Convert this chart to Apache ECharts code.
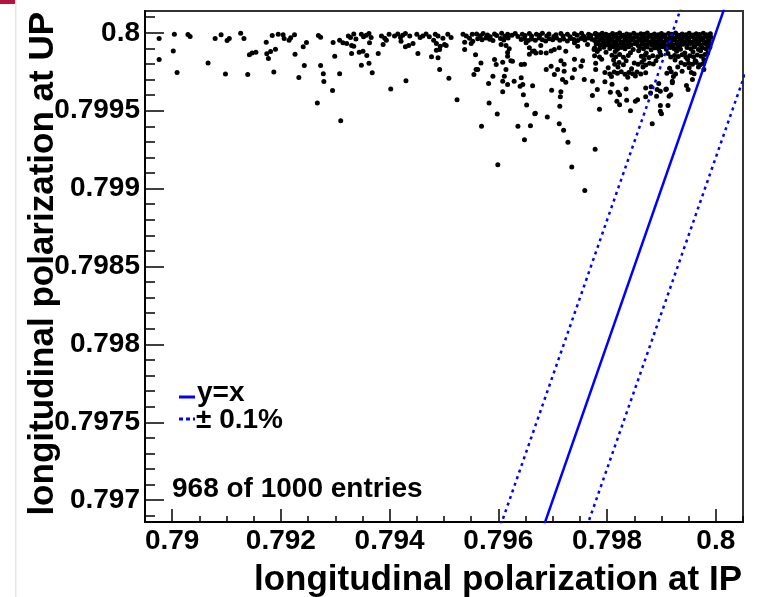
<!DOCTYPE html>
<html>
<head>
<meta charset="utf-8">
<script src="https://cdn.jsdelivr.net/npm/echarts@6/dist/echarts.min.js"></script>
<style>
    html, body { margin: 0; padding: 0; background: #fff; }
    #chart { width: 760px; height: 597px; }
</style>
</head>
<body>
<div id="chart"></div>
<script>
// 坐标范围
const xMin = 0.7895, xMax = 0.8005;
const yMin = 0.79686, yMax = 0.80014;

// 刻度
const xMajorTicks = [0.79, 0.792, 0.794, 0.796, 0.798, 0.8];
const xTickLabels = ['0.79', '0.792', '0.794', '0.796', '0.798', '0.8'];
const xMinorTicks = [0.7895, 0.7905, 0.791, 0.7915, 0.7925, 0.793, 0.7935, 0.7945, 0.795, 0.7955,
    0.7965, 0.797, 0.7975, 0.7985, 0.799, 0.7995, 0.8005];
const yMajorTicks = [0.797, 0.7975, 0.798, 0.7985, 0.799, 0.7995, 0.8];
const yTickLabels = ['0.797', '0.7975', '0.798', '0.7985', '0.799', '0.7995', '0.8'];
const yMinorTicks = [0.7969, 0.7971, 0.7972, 0.7973, 0.7974, 0.7976, 0.7977, 0.7978, 0.7979,
    0.7981, 0.7982, 0.7983, 0.7984, 0.7986, 0.7987, 0.7988, 0.7989, 0.7991, 0.7992, 0.7993, 0.7994,
    0.7996, 0.7997, 0.7998, 0.7999, 0.8001];

// 稀疏的点 (IP, UP)
const sparseHits = [
    [0.78976,0.799963],[0.79004,0.799991],[0.79029,0.799989],[0.79033,0.799976],[0.79002,0.799884],
    [0.78976,0.799828],[0.79009,0.799745],[0.79066,0.799807],[0.79079,0.799963],[0.7909,0.799987],
    [0.79101,0.79995],[0.79105,0.799963],[0.79098,0.799736],[0.79126,0.799997],[0.79132,0.799963],
    [0.79139,0.799732],[0.79142,0.799859],[0.79147,0.799871],[0.79154,0.799875],[0.79173,0.79994],
    [0.79174,0.799865],[0.79177,0.799835],[0.79181,0.79988],[0.7919,0.799895],[0.79184,0.799983],
    [0.79195,0.799991],[0.79204,0.799987],[0.79206,0.799963],[0.79215,0.799952],[0.79218,0.799968],
    [0.79225,0.799987],[0.79187,0.799749],[0.79226,0.799862],[0.79233,0.799713],[0.79243,0.79979],
    [0.79241,0.79991],[0.79247,0.799938],[0.79267,0.79955],[0.79269,0.799983],[0.79273,0.799972],
    [0.79273,0.79979],[0.79278,0.799738],[0.79279,0.799687],[0.79295,0.799629],[0.79296,0.799938],
    [0.79299,0.79985],[0.7933,0.799867],[0.79344,0.799875],[0.79351,0.799882],[0.79358,0.799854],
    [0.79379,0.799867],[0.79452,0.799867],[0.79477,0.799846],[0.79489,0.79984],[0.79486,0.799888],
    [0.79492,0.799893],[0.79538,0.799893],[0.79558,0.799859],
    [0.79348,0.799792],[0.79362,0.799805],[0.79308,0.799738],[0.79368,0.799743],[0.79492,0.799764],
    [0.7943,0.799693],[0.79509,0.799708],[0.79559,0.799764],[0.79555,0.799732],[0.79402,0.79964],
    [0.79524,0.799571],[0.7931,0.799436],
    [0.79599,0.799153],[0.79735,0.799139],[0.79759,0.798988],[0.79778,0.799252],[0.79648,0.799314],
    [0.79728,0.799297],[0.79569,0.7994],[0.79636,0.7994],[0.79659,0.799404],[0.79712,0.799417],
    [0.7972,0.799374],[0.7969,0.79946],[0.79667,0.799481],[0.79598,0.799479],[0.79583,0.79955],
    [0.79883,0.799417],[0.799,0.799481],
    [0.79582,0.799674],[0.79608,0.799621],[0.79617,0.799668],[0.7964,0.799657],[0.79645,0.799668],
    [0.79646,0.799603],[0.79663,0.79966],[0.79652,0.799537],[0.79668,0.799483],[0.79698,0.799631],
    [0.79715,0.799621],[0.79714,0.799589],[0.79724,0.799682],[0.79713,0.799528],[0.79773,0.799597],
    [0.79782,0.799636],[0.79796,0.799686],[0.79809,0.79967],[0.79806,0.799618],[0.7982,0.799618],
    [0.79823,0.799603],[0.79835,0.79964],[0.79818,0.79956],[0.79823,0.799539],[0.79836,0.799567],
    [0.79843,0.7995],[0.79786,0.799509],[0.79852,0.79956],[0.79856,0.799571],[0.79871,0.799589],
    [0.7988,0.799614],[0.79881,0.799653],[0.79891,0.799592],[0.79895,0.799674],[0.79898,0.799625],
    [0.79898,0.799533],[0.79912,0.799533],[0.79898,0.799496],[0.79909,0.79964],[0.79917,0.799603],
    [0.7992,0.799679],[0.79946,0.799661],[0.79949,0.799636],
    [0.79963,0.799817],[0.79978,0.799764],[0.79957,0.7997],[0.79938,0.799753],[0.7992,0.799689],
    [0.79908,0.799636],[0.79914,0.799592],[0.79892,0.799636],[0.79871,0.799646]
];

// 上沿的密集带
const bandHits = [
    [0.79324,0.79998],[0.79328,0.79997],[0.79334,0.799992],[0.79338,0.79996],[0.79348,0.79999],
    [0.79352,0.799975],[0.79357,0.799985],[0.79362,0.799996],[0.79366,0.79997],[0.79385,0.79998],
    [0.79391,0.799965],[0.79399,0.79999],[0.79409,0.79998],[0.79415,0.799992],[0.7942,0.79997],
    [0.79424,0.799985],[0.79429,0.799995],[0.79437,0.79998],[0.7945,0.79999],[0.79456,0.79997],
    [0.79461,0.79998],[0.79467,0.799993],[0.79473,0.799975],[0.79484,0.79999],[0.79489,0.79998],
    [0.79498,0.799965],[0.79507,0.79999],[0.79513,0.79997],[0.79535,0.79999],[0.79541,0.79998],
    [0.79547,0.799965],[0.79552,0.79999],
    [0.79308,0.799952],[0.79314,0.799936],[0.79321,0.799931],[0.7933,0.799918],[0.79334,0.799914],
    [0.79363,0.799936],[0.79388,0.799925],[0.79394,0.799952],[0.79421,0.799946],[0.79429,0.79991],
    [0.79435,0.799918],[0.79443,0.799931],[0.79481,0.799952],[0.79486,0.799931],[0.79493,0.799914],
    [0.79501,0.799925],[0.79504,0.799918],[0.79538,0.79994],[0.7955,0.799931],[0.79553,0.799946],
    [0.7956,0.799992],[0.79567,0.799981],[0.79572,0.799996],[0.7958,0.799986],[0.79585,0.799975],
    [0.79593,0.799993],[0.79597,0.799983],[0.79606,0.799997],[0.79612,0.799978],[0.79617,0.79999],
    [0.79625,0.799984],[0.79631,0.799996],[0.79636,0.799976],[0.79644,0.79999],[0.79649,0.799982],
    [0.79657,0.799995],[0.79661,0.799979],[0.7967,0.79999],[0.79676,0.799985],[0.79681,0.799997],
    [0.79689,0.79998],[0.79693,0.799992],[0.79702,0.799976],[0.79706,0.799988],[0.79715,0.799996],
    [0.79719,0.79998],[0.79727,0.799991],[0.79732,0.799975],[0.7974,0.799994],[0.79745,0.799984],
    [0.79753,0.799997],[0.79757,0.799978],[0.79766,0.79999],[0.7977,0.799982],[0.79779,0.799995],
    [0.79562,0.799962],[0.7957,0.799955],[0.79577,0.799966],[0.79584,0.799958],[0.7959,0.799951],
    [0.79604,0.799963],[0.7961,0.799954],[0.79618,0.799967],[0.79642,0.799957],[0.79648,0.799964],
    [0.79655,0.79995],[0.79661,0.79996],[0.79668,0.799953],[0.79675,0.799966],[0.79681,0.799956],
    [0.79687,0.799948],[0.79694,0.799962],[0.797,0.799955],[0.79707,0.799967],[0.79713,0.799952],
    [0.7972,0.79996],[0.79727,0.799947],[0.79733,0.799964],[0.79739,0.799957],[0.79746,0.79995],
    [0.79752,0.799963],[0.79759,0.799954],[0.79765,0.799966],[0.79772,0.799958],
    [0.79605,0.799925],[0.79614,0.799918],[0.7962,0.799897],[0.79651,0.799936],[0.79657,0.799904],
    [0.79663,0.799882],[0.79669,0.799871],[0.79678,0.799918],[0.79688,0.799871],[0.79703,0.799893],
    [0.79712,0.799904],[0.79724,0.799882],[0.7974,0.799936],[0.79746,0.799914],[0.79764,0.799925],
    [0.79776,0.799893],
    [0.79568,0.799807],[0.79593,0.799828],[0.79596,0.799796],[0.79608,0.799811],[0.79614,0.799764],
    [0.79617,0.79985],[0.79626,0.799817],[0.79642,0.799796],[0.79562,0.799764],[0.7959,0.799721],
    [0.79611,0.799721],[0.79608,0.799689],[0.79629,0.799689],[0.79642,0.799711],[0.79688,0.799764],
    [0.79697,0.799785],[0.79709,0.799764],[0.79703,0.799732],[0.79718,0.7997],[0.79721,0.799753],
    [0.79736,0.799711],[0.7974,0.799764],[0.79752,0.799785],[0.79758,0.7997],[0.79773,0.799689],
    [0.79779,0.799764],
    [0.79617,0.799873],[0.79623,0.79982],[0.79648,0.799798],[0.79657,0.799862],[0.79666,0.799884],
    [0.79678,0.799873],[0.79697,0.799884],[0.79715,0.79982],[0.79721,0.799798],[0.7974,0.79983],
    [0.79755,0.79982]
];

// 右上角的核心区
const coreHits = [
    [0.79778,0.799994],[0.79785,0.799987],[0.79791,0.799997],[0.79798,0.79999],[0.79804,0.799984],
    [0.7981,0.799996],[0.79817,0.799989],[0.79823,0.799998],[0.7983,0.799985],[0.79836,0.799993],
    [0.79842,0.799988],[0.79849,0.799997],[0.79855,0.799986],[0.79862,0.799994],[0.79868,0.79999],
    [0.79874,0.799998],[0.79881,0.799985],[0.79887,0.799993],[0.79894,0.799988],[0.799,0.799996],
    [0.79906,0.799986],[0.79913,0.799995],[0.79919,0.79999],[0.79926,0.799998],[0.79932,0.799985],
    [0.79938,0.799993],[0.79945,0.799988],[0.79951,0.799997],[0.79958,0.799986],[0.79964,0.799994],
    [0.7997,0.799989],[0.79977,0.799997],[0.79983,0.799987],[0.7999,0.799994],
    [0.79781,0.799972],[0.79788,0.799966],[0.79794,0.799976],[0.79801,0.799969],[0.79807,0.799962],
    [0.79813,0.799974],[0.7982,0.799967],[0.79826,0.799977],[0.79833,0.799964],[0.79839,0.799971],
    [0.79845,0.799966],[0.79852,0.799975],[0.79858,0.799963],[0.79865,0.799972],[0.79871,0.799968],
    [0.79877,0.799977],[0.79884,0.799964],[0.7989,0.799971],[0.79897,0.799966],[0.79903,0.799975],
    [0.79909,0.799963],[0.79916,0.799973],[0.79922,0.799968],[0.79929,0.799977],[0.79935,0.799964],
    [0.79941,0.799971],[0.79948,0.799966],[0.79954,0.799975],[0.79961,0.799963],[0.79967,0.799972],
    [0.79973,0.799967],[0.7998,0.799976],[0.79986,0.799965],[0.79991,0.799972],
    [0.79777,0.79995],[0.79784,0.799944],[0.7979,0.799955],[0.79797,0.799947],[0.79803,0.79994],
    [0.79809,0.799952],[0.79816,0.799945],[0.79822,0.799956],[0.79829,0.799942],[0.79835,0.79995],
    [0.79841,0.799944],[0.79848,0.799954],[0.79854,0.799941],[0.79861,0.79995],[0.79867,0.799946],
    [0.79873,0.799955],[0.7988,0.799942],[0.79886,0.799949],[0.79893,0.799944],[0.79899,0.799953],
    [0.79905,0.799941],[0.79912,0.79995],[0.79918,0.799946],[0.79925,0.799955],[0.79931,0.799942],
    [0.79937,0.799949],[0.79944,0.799944],[0.7995,0.799953],[0.79957,0.799941],[0.79963,0.79995],
    [0.79969,0.799945],[0.79976,0.799954],[0.79982,0.799943],[0.79988,0.79995],
    [0.7978,0.799928],[0.79787,0.799921],[0.79793,0.799932],[0.798,0.799924],[0.79806,0.799918],
    [0.79812,0.79993],[0.79819,0.799922],[0.79825,0.799933],[0.79832,0.79992],[0.79838,0.799928],
    [0.79844,0.799922],[0.79851,0.799931],[0.79857,0.799919],[0.79864,0.799927],[0.7987,0.799923],
    [0.79876,0.799932],[0.79883,0.79992],[0.79889,0.799927],[0.79896,0.799922],[0.79902,0.799931],
    [0.79908,0.799919],[0.79915,0.799928],[0.79921,0.799923],[0.79928,0.799932],[0.79934,0.79992],
    [0.7994,0.799927],[0.79947,0.799922],[0.79953,0.799931],[0.7996,0.799919],[0.79966,0.799928],
    [0.79972,0.799922],[0.79979,0.799931],[0.79985,0.79992],[0.79989,0.799928],
    [0.79777,0.799903],[0.79786,0.799896],[0.79794,0.799908],[0.79805,0.799899],[0.79812,0.79991],
    [0.79819,0.799894],[0.79826,0.799905],[0.79833,0.799898],[0.7984,0.79991],[0.79848,0.799893],
    [0.7986,0.799906],[0.79867,0.799897],[0.79874,0.799909],[0.79881,0.799892],[0.79888,0.799904],
    [0.79895,0.799898],[0.79902,0.799911],[0.79909,0.799895],[0.79916,0.799906],[0.79923,0.799899],
    [0.7993,0.799909],[0.79935,0.799894],[0.79947,0.799905],[0.79954,0.799897],[0.79961,0.79991],
    [0.79968,0.799893],[0.79975,0.799904],[0.79982,0.799898],[0.79989,0.799908],
    [0.79782,0.79988],[0.79798,0.799875],[0.79815,0.79988],[0.79843,0.799872],[0.79858,0.799885],
    [0.79872,0.79987],[0.79897,0.799878],[0.79912,0.799868],[0.79928,0.799882],[0.79943,0.79987],
    [0.79958,0.799878],[0.79972,0.799885],[0.79985,0.79987],
    [0.79777,0.799852],[0.79786,0.799845],[0.79809,0.799856],[0.79816,0.799847],[0.79823,0.79986],
    [0.7983,0.799843],[0.79839,0.799854],[0.79863,0.799849],[0.7987,0.799858],[0.79877,0.799842],
    [0.79884,0.799853],[0.79893,0.799846],[0.79899,0.799857],[0.79917,0.799844],[0.79924,0.799855],
    [0.79931,0.799848],[0.79938,0.799859],[0.79945,0.799843],[0.79952,0.799852],[0.79959,0.799846],
    [0.79966,0.799857],[0.79973,0.799849],[0.7998,0.79986],
    [0.7979,0.79983],[0.79812,0.799825],[0.79835,0.79982],[0.79868,0.799828],[0.7989,0.79982],
    [0.79925,0.799825],[0.79948,0.79983],[0.79962,0.79982],[0.79978,0.799828],
    [0.79779,0.799805],[0.79814,0.799798],[0.79822,0.79981],[0.7983,0.799795],[0.7985,0.799806],
    [0.79857,0.799799],[0.79864,0.799811],[0.79871,0.799794],[0.79878,0.799804],[0.79885,0.7998],
    [0.79936,0.799808],[0.79943,0.799796],[0.7995,0.799805],[0.79957,0.799799],[0.79964,0.79981],
    [0.79971,0.799795],[0.79977,0.799803],
    [0.79802,0.799775],[0.7982,0.79978],[0.79845,0.79977],[0.79866,0.79978],[0.79915,0.799772],
    [0.7993,0.79978],[0.79951,0.799775],[0.79968,0.79978],
    [0.79796,0.799745],[0.79805,0.799736],[0.79813,0.799748],[0.79819,0.79974],[0.79826,0.79975],
    [0.79833,0.799734],[0.7984,0.799746],[0.79847,0.799738],[0.79855,0.799749],[0.79862,0.799735],
    [0.79871,0.799744],[0.7991,0.79974],[0.79918,0.79975],[0.79926,0.799736],[0.79955,0.799745],
    [0.7996,0.799737],
    [0.79808,0.79972],[0.79838,0.799715],[0.79852,0.799722],[0.79922,0.79972]
];

// 参考线 y=x 与 ±0.1%
const lineYX = [[0.7965, 0.7965], [0.8006, 0.8006]];
const linePlus = [[0.7960, 0.796796], [0.7995, 0.8003]];
const lineMinus = [[0.7975, 0.796703], [0.8010, 0.800199]];

const font = 'Liberation Sans, Arial, sans-serif';
const blue = '#0000ff';

function fmt(ticks, labels) {
    return function (v) {
        for (let i = 0; i < ticks.length; i++) {
            if (Math.abs(ticks[i] - v) < 1e-9) return labels[i];
        }
        return '';
    };
}

const option = {
    animation: false,
    backgroundColor: '#fff',
    grid: {
        left: 145, right: 17, top: 11, bottom: 75,
        show: true, borderColor: '#333', borderWidth: 2,
        containLabel: false, outerBoundsMode: 'none'
    },
    xAxis: [{
        type: 'value', min: xMin, max: xMax, position: 'bottom',
        axisLine: { show: true, lineStyle: { color: '#000', width: 2 } },
        axisTick: { show: true, inside: true, length: 13, customValues: xMajorTicks, lineStyle: { color: '#000', width: 1.5 } },
        axisLabel: {
            customValues: xMajorTicks, formatter: fmt(xMajorTicks, xTickLabels),
            color: '#000', fontSize: 28, fontWeight: 'bold', fontFamily: font, margin: 5
        },
        splitLine: { show: false }
    }, {
        type: 'value', min: xMin, max: xMax, position: 'bottom',
        axisLine: { show: false },
        axisTick: { show: true, inside: true, length: 6, customValues: xMinorTicks, lineStyle: { color: '#000', width: 1.5 } },
        axisLabel: { show: false },
        splitLine: { show: false }
    }],
    yAxis: [{
        type: 'value', min: yMin, max: yMax, position: 'left',
        axisLine: { show: true, lineStyle: { color: '#000', width: 2 } },
        axisTick: { show: true, inside: true, length: 19, customValues: yMajorTicks, lineStyle: { color: '#000', width: 1.5 } },
        axisLabel: {
            customValues: yMajorTicks, formatter: fmt(yMajorTicks, yTickLabels),
            color: '#000', fontSize: 28, fontWeight: 'bold', fontFamily: font, margin: 5
        },
        splitLine: { show: false }
    }, {
        type: 'value', min: yMin, max: yMax, position: 'left',
        axisLine: { show: false },
        axisTick: { show: true, inside: true, length: 10, customValues: yMinorTicks, lineStyle: { color: '#000', width: 1.5 } },
        axisLabel: { show: false },
        splitLine: { show: false }
    }],
    series: [{
        type: 'scatter',
        data: sparseHits.concat(bandHits, coreHits),
        symbol: 'circle',
        symbolSize: 5,
        itemStyle: { color: '#000', opacity: 1 },
        silent: true,
        z: 2
    }, {
        type: 'line', data: lineYX, showSymbol: false, silent: true, clip: true, z: 3,
        lineStyle: { color: blue, width: 2.5 }
    }, {
        type: 'line', data: linePlus, showSymbol: false, silent: true, clip: true, z: 3,
        lineStyle: { color: blue, width: 2.5, type: [3, 4] }
    }, {
        type: 'line', data: lineMinus, showSymbol: false, silent: true, clip: true, z: 3,
        lineStyle: { color: blue, width: 2.5, type: [3, 4] }
    }],
    graphic: [
        // 截图边角
        { type: 'rect', shape: { x: 0, y: 0, width: 15, height: 4 }, style: { fill: '#b5123f' }, silent: true },
        { type: 'rect', shape: { x: 15, y: 0, width: 1.5, height: 597 }, style: { fill: '#e6e6e6' }, silent: true },
        // 轴标题
        {
            type: 'text', x: 742, y: 580, silent: true,
            style: { text: 'longitudinal polarization at IP', font: 'bold 35px ' + font, fill: '#000', align: 'right', verticalAlign: 'middle' }
        },
        {
            type: 'text', x: 43, y: 12, rotation: Math.PI / 2, silent: true,
            style: { text: 'longitudinal polarization at UP', font: 'bold 35px ' + font, fill: '#000', align: 'right', verticalAlign: 'middle' }
        },
        // 图例
        { type: 'line', shape: { x1: 179, y1: 397, x2: 195, y2: 397 }, style: { stroke: blue, lineWidth: 3 }, silent: true },
        { type: 'line', shape: { x1: 179, y1: 419, x2: 195, y2: 419 }, style: { stroke: blue, lineWidth: 3, lineDash: [4, 3] }, silent: true },
        {
            type: 'text', x: 197, y: 393, silent: true,
            style: { text: 'y=x', font: 'bold 28px ' + font, fill: '#000', align: 'left', verticalAlign: 'middle' }
        },
        {
            type: 'text', x: 196, y: 420, silent: true,
            style: { text: '\u00b1 0.1%', font: 'bold 28px ' + font, fill: '#000', align: 'left', verticalAlign: 'middle' }
        },
        {
            type: 'text', x: 172, y: 489, silent: true,
            style: { text: '968 of 1000 entries', font: 'bold 28px ' + font, fill: '#000', align: 'left', verticalAlign: 'middle' }
        }
    ]
};

const chart = echarts.init(document.getElementById('chart'), null, { renderer: 'canvas' });
chart.setOption(option);
</script>
</body>
</html>
